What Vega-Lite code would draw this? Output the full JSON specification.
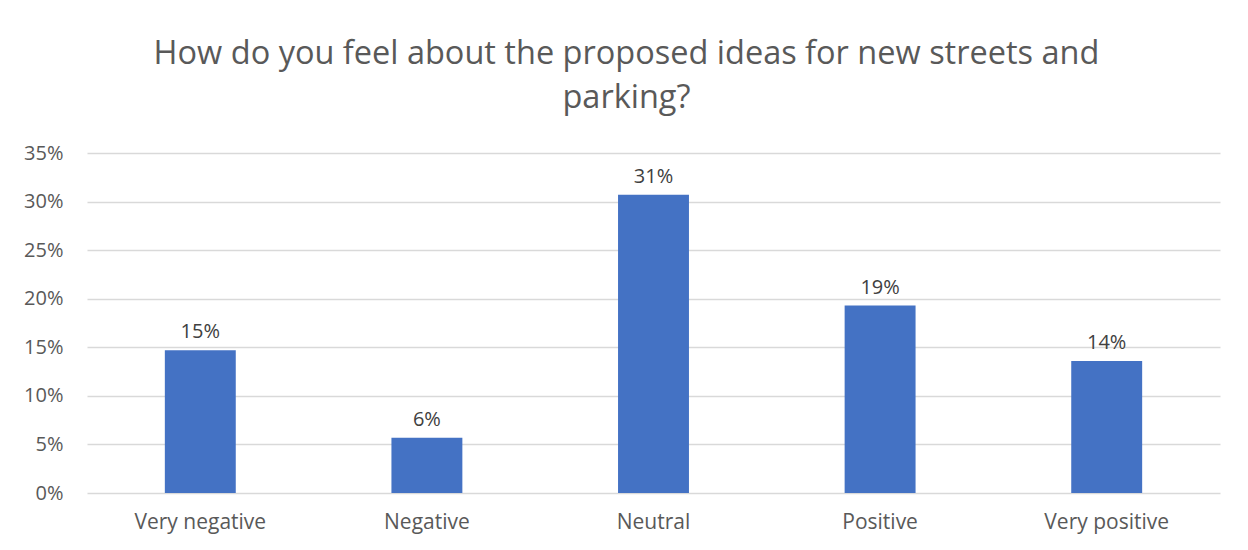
{
  "$schema": "https://vega.github.io/schema/vega-lite/v6.json",
  "autosize": {"type": "none"},
  "width": 1133,
  "height": 340,
  "padding": {"left": 87, "top": 153, "right": 28, "bottom": 57},
  "background": "white",
  "title": {
    "text": ["How do you feel about the proposed ideas for new streets and", "parking?"],
    "anchor": "middle",
    "frame": "group",
    "dx": -27,
    "offset": 29,
    "font": "Open Sans",
    "fontSize": 32.5,
    "fontWeight": "normal",
    "color": "#595959",
    "lineHeight": 44
  },
  "config": {
    "view": {"stroke": null},
    "font": "Open Sans"
  },
  "data": {
    "values": [
      {"category": "Very negative", "share": 0.147},
      {"category": "Negative", "share": 0.057},
      {"category": "Neutral", "share": 0.307},
      {"category": "Positive", "share": 0.193},
      {"category": "Very positive", "share": 0.136}
    ]
  },
  "encoding": {
    "x": {
      "field": "category",
      "type": "nominal",
      "sort": null,
      "scale": {"paddingInner": 0.687, "paddingOuter": 0.3435},
      "axis": {
        "title": null,
        "labelAngle": 0,
        "labelFontSize": 21,
        "labelColor": "#595959",
        "labelPadding": 18,
        "ticks": false,
        "domain": false
      }
    },
    "y": {
      "field": "share",
      "type": "quantitative",
      "scale": {"domain": [0, 0.35]},
      "axis": {
        "title": null,
        "format": ".0%",
        "values": [0, 0.05, 0.1, 0.15, 0.2, 0.25, 0.3, 0.35],
        "labelFontSize": 20,
        "labelColor": "#595959",
        "labelPadding": 24,
        "ticks": false,
        "domain": false,
        "gridColor": "#d9d9d9",
        "gridWidth": 1.3
      }
    }
  },
  "layer": [
    {"mark": {"type": "bar", "color": "#4472C4"}},
    {
      "mark": {"type": "text", "baseline": "bottom", "dy": -8, "fontSize": 20, "color": "#404040"},
      "encoding": {"text": {"field": "share", "type": "quantitative", "format": ".0%"}}
    }
  ]
}
